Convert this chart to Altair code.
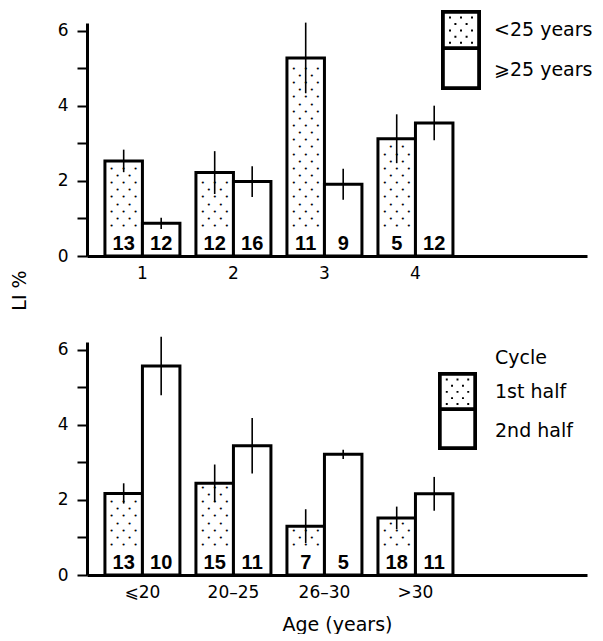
import altair as alt
import pandas as pd

# ---------------- data ----------------
TOP_GROUPS = ["1", "2", "3", "4"]
TOP_SERIES = ["<25 years", "⩾25 years"]
TOP_YOUNG = [2.53, 2.22, 5.27, 3.12]
TOP_YOUNG_ERR = [0.30, 0.57, 0.94, 0.65]
TOP_YOUNG_N = [13, 12, 11, 5]
TOP_OLD = [0.87, 1.98, 1.91, 3.54]
TOP_OLD_ERR = [0.15, 0.41, 0.41, 0.46]
TOP_OLD_N = [12, 16, 9, 12]

BOT_GROUPS = ["⩽20", "20–25", "26–30", ">30"]
BOT_SERIES = ["1st half", "2nd half"]
BOT_FIRST = [2.17, 2.44, 1.30, 1.52]
BOT_FIRST_ERR = [0.27, 0.50, 0.45, 0.30]
BOT_FIRST_N = [13, 15, 7, 18]
BOT_SECOND = [5.56, 3.44, 3.21, 2.16]
BOT_SECOND_ERR = [0.78, 0.74, 0.12, 0.45]
BOT_SECOND_N = [10, 11, 5, 11]

Y_TICKS = [0, 1, 2, 3, 4, 5, 6]
Y_MAX = 6.2

FONT = "DejaVu Sans"

# ---------------- legend symbols (unit square paths) ----------------
B = 0.19
OUTER = "M-1,-1H1V1H-1Z"
HOLE_FULL = f"M{-1+B},{-1+B}V{1-B}H{1-B}V{-1+B}Z"
HOLE_OPEN = f"M{-1+B},-1V{1-B}H{1-B}V-1Z"


def stipple_path():
    d = 0.1
    parts = []
    for i, yy in enumerate([-0.62, -0.3, 0.02, 0.34, 0.64]):
        xs = [-0.55, 0.0, 0.55] if i % 2 == 0 else [-0.28, 0.28]
        for xx in xs:
            parts.append(f"M{xx - d/2:.3f},{yy - d/2:.3f}h{d}v{d}h{-d}Z")
    return "".join(parts)


PATH_STIPPLED = OUTER + HOLE_FULL + stipple_path()
PATH_OPEN = OUTER + HOLE_OPEN


def panel(groups, series, a, a_err, a_n, b, b_err, b_n,
          y_title, x_title, legend_x, legend_y, sym_size, lab_off, title=None):
    rows = []
    for s, vals, errs, ns in ((series[0], a, a_err, a_n), (series[1], b, b_err, b_n)):
        for g, v, e, n in zip(groups, vals, errs, ns):
            rows.append({"group": g, "series": s, "value": v, "lo": v - e,
                         "hi": v + e, "n": str(n), "base": 0})
    df = pd.DataFrame(rows)

    # stipple texture rows inside the dotted bars (above the count labels)
    dots = []
    for g, v in zip(groups, a):
        k = 0
        while 0.8 + k * 0.19 < v - 0.1:
            dots.append({"group": g, "series": series[0],
                         "yy": 0.8 + k * 0.19, "phase": k % 2})
            k += 1
    ddf = pd.DataFrame(dots)

    xscale = alt.Scale(domain=groups, paddingInner=0.176, paddingOuter=0.835, align=0.118)
    oscale = alt.Scale(domain=series, paddingInner=0, paddingOuter=0)
    yscale = alt.Scale(domain=[0, Y_MAX], nice=False, zero=True)

    xaxis_kw = dict(ticks=False, domainWidth=3, domainColor="black", labelPadding=9,
                    labelFont=FONT, labelFontSize=17, labelColor="black", labelAngle=0,
                    grid=False)
    if x_title:
        xaxis_kw.update(title=x_title, titleFont=FONT, titleFontSize=19,
                        titleFontWeight="normal", titleColor="black", titlePadding=15)
    else:
        xaxis_kw.update(title=None)
    xaxis = alt.Axis(**xaxis_kw)

    yaxis_kw = dict(values=Y_TICKS,
                    labelExpr="datum.value % 2 == 0 ? datum.label : ''",
                    tickSize=10, tickWidth=2, tickColor="black", domainWidth=3,
                    domainColor="black", labelPadding=9, labelFont=FONT,
                    labelFontSize=17, labelColor="black", grid=False)
    if y_title:
        yaxis_kw.update(title=y_title, titleFont=FONT, titleFontSize=19,
                        titleFontWeight="normal", titleColor="black",
                        titleX=-58, titleY=267)
    else:
        yaxis_kw.update(title=None)
    yaxis = alt.Axis(**yaxis_kw)

    X = alt.X("group:N", scale=xscale, axis=xaxis, sort=groups)
    XO = alt.XOffset("series:N", scale=oscale, sort=series)

    def Y(field):
        return alt.Y(f"{field}:Q", scale=yscale, axis=yaxis)

    bars = alt.Chart(df).mark_bar(fill="white", stroke="black", strokeWidth=3,
                                  strokeJoin="miter").encode(x=X, xOffset=XO, y=Y("value"))

    layers = [bars]
    for phase, dxs in ((0, [-12, 0, 12]), (1, [-6, 6])):
        for dx in dxs:
            layers.append(
                alt.Chart(ddf).transform_filter(f"datum.phase == {phase}")
                .mark_text(text="•", font=FONT, fontSize=7, color="black",
                           dx=dx, align="center", baseline="middle")
                .encode(x=X, xOffset=XO, y=Y("yy"))
            )

    errs = alt.Chart(df).mark_rule(color="black", strokeWidth=1.6).encode(
        x=X, xOffset=XO, y=Y("lo"), y2=alt.Y2("hi:Q"))
    layers.append(errs)

    counts = alt.Chart(df).mark_text(font="Liberation Sans", fontSize=20, fontWeight="bold",
                                     baseline="alphabetic", dy=-6, color="black").encode(
        x=X, xOffset=XO, y=Y("base"), text="n:N")
    layers.append(counts)

    leg = alt.Chart(df).mark_point(filled=True, color="black", opacity=0).encode(
        shape=alt.Shape("series:N", sort=series,
                        scale=alt.Scale(domain=series, range=[PATH_STIPPLED, PATH_OPEN]),
                        legend=alt.Legend(title=None, orient="none", legendX=legend_x,
                                          legendY=legend_y, symbolSize=sym_size,
                                          symbolStrokeWidth=0, symbolOpacity=1,
                                          symbolFillColor="black", labelFont=FONT,
                                          labelFontSize=19, labelColor="black",
                                          labelOffset=lab_off, rowPadding=0, padding=0,
                                          labelLimit=300)))
    layers.append(leg)

    props = dict(width=500, height=233)
    if title is not None:
        props["title"] = title
    return alt.layer(*layers).properties(**props)


top = panel(TOP_GROUPS, TOP_SERIES, TOP_YOUNG, TOP_YOUNG_ERR, TOP_YOUNG_N,
            TOP_OLD, TOP_OLD_ERR, TOP_OLD_N,
            y_title="LI %", x_title=None, legend_x=354, legend_y=-13,
            sym_size=1600, lab_off=13)

bottom = panel(BOT_GROUPS, BOT_SERIES, BOT_FIRST, BOT_FIRST_ERR, BOT_FIRST_N,
               BOT_SECOND, BOT_SECOND_ERR, BOT_SECOND_N,
               y_title=None, x_title="Age (years)", legend_x=351, legend_y=30,
               sym_size=1521, lab_off=18,
               title=alt.TitleParams(text="Cycle", anchor="start", frame="group",
                                     orient="top", offset=0, dx=408, dy=41,
                                     baseline="middle", font=FONT, fontSize=19,
                                     fontWeight="normal", color="black"))

chart = (
    alt.vconcat(top, bottom, spacing=24)
    .resolve_scale(x="independent", xOffset="independent", y="independent",
                   shape="independent")
    .resolve_legend(shape="independent")
    .properties(padding={"left": 2, "top": 2, "right": 0, "bottom": 0})
    .configure_view(stroke=None)
)

chart.save("out.html", embed_options={"renderer": "svg", "actions": False})
